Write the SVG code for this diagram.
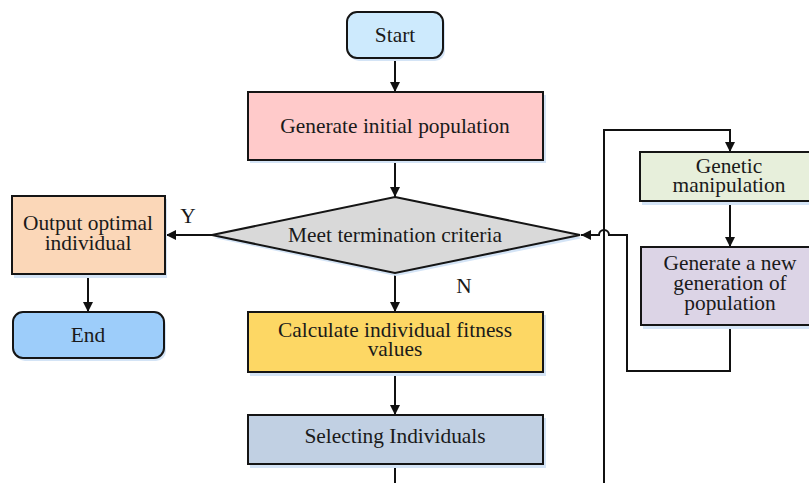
<svg xmlns="http://www.w3.org/2000/svg" width="809" height="483" viewBox="0 0 809 483">
  <defs>
    <marker id="arrow" viewBox="0 0 10 10" refX="10" refY="5" markerWidth="10" markerHeight="10" markerUnits="userSpaceOnUse" orient="auto">
      <path d="M0,0 L10,5 L0,10 z" fill="#111"/>
    </marker>
    <style>
      .box { stroke: #151515; stroke-width: 2; }
      .shadow { fill: #d4e4f6; }
      .label { font-family: "Liberation Serif", "Times New Roman", serif; font-size: 21.4px; fill: #1a1a1a; text-anchor: middle; }
      .link { fill: none; stroke: #111; stroke-width: 2; }
    </style>
  </defs>
  <rect width="809" height="483" fill="#ffffff"/>

  <g id="connectors">
    <line class="link" x1="395" y1="58" x2="395" y2="92" marker-end="url(#arrow)"/>
    <line class="link" x1="395" y1="160" x2="395" y2="197" marker-end="url(#arrow)"/>
    <line class="link" x1="395" y1="273" x2="395" y2="312" marker-end="url(#arrow)"/>
    <line class="link" x1="395" y1="372" x2="395" y2="415" marker-end="url(#arrow)"/>
    <line class="link" x1="395" y1="464" x2="395" y2="483"/>
    <line class="link" x1="212" y1="235" x2="166" y2="235" marker-end="url(#arrow)"/>
    <line class="link" x1="88" y1="274" x2="88" y2="312" marker-end="url(#arrow)"/>
    <!-- feedback loop to genetic operators -->
    <path class="link" d="M604,483 L604,130 L730,130 L730,152" marker-end="url(#arrow)"/>
    <line class="link" x1="730" y1="201" x2="730" y2="247" marker-end="url(#arrow)"/>
    <!-- return to the decision, hopping over the vertical line -->
    <path class="link" d="M730,325 L730,371 L627,371 L627,235 L609,235 A5,5 0 0 0 599,235 L581,235" marker-end="url(#arrow)"/>
    <text class="label" x="188" y="223">Y</text>
    <text class="label" x="464" y="293">N</text>
  </g>

  <g id="start">
    <rect class="shadow" x="349" y="14" width="96" height="47" rx="10"/>
    <rect class="box" x="347" y="12" width="96" height="46" rx="10" fill="#cdeafd"/>
    <text class="label" x="395" y="42">Start</text>
  </g>

  <g id="init-population">
    <rect class="shadow" x="250" y="95" width="296" height="68"/>
    <rect class="box" x="248" y="92" width="295" height="68" fill="#ffcaca"/>
    <text class="label" x="395" y="133">Generate initial population</text>
  </g>

  <g id="termination">
    <polygon class="shadow" points="396,200 583,238 396,276 214,238"/>
    <polygon class="box" points="395,197 580,235 395,273 212,235" fill="#d9d9d9"/>
    <text class="label" x="395" y="242">Meet termination criteria</text>
  </g>

  <g id="fitness">
    <rect class="shadow" x="250" y="315" width="296" height="61"/>
    <rect class="box" x="248" y="312" width="295" height="60" fill="#fdd764"/>
    <text class="label" x="395" y="337">Calculate individual fitness</text>
    <text class="label" x="395" y="356">values</text>
  </g>

  <g id="selection">
    <rect class="shadow" x="250" y="418" width="296" height="50"/>
    <rect class="box" x="248" y="415" width="295" height="49" fill="#c1d0e3"/>
    <text class="label" x="395" y="443">Selecting Individuals</text>
  </g>

  <g id="output">
    <rect class="shadow" x="14" y="199" width="153" height="79"/>
    <rect class="box" x="12" y="196" width="153" height="78" fill="#fbd7b8"/>
    <text class="label" x="88" y="230">Output optimal</text>
    <text class="label" x="88" y="250">individual</text>
  </g>

  <g id="end">
    <rect class="shadow" x="15" y="315" width="151" height="46" rx="10"/>
    <rect class="box" x="13" y="312" width="151" height="46" rx="10" fill="#9dcdfa"/>
    <text class="label" x="88" y="342">End</text>
  </g>

  <g id="genetic">
    <rect class="shadow" x="642" y="155" width="180" height="50"/>
    <rect class="box" x="640" y="152" width="180" height="49" fill="#e7efdb"/>
    <text class="label" x="729" y="173">Genetic</text>
    <text class="label" x="729" y="192">manipulation</text>
  </g>

  <g id="new-generation">
    <rect class="shadow" x="643" y="250" width="180" height="79"/>
    <rect class="box" x="641" y="247" width="180" height="78" fill="#dcd4e6"/>
    <text class="label" x="730" y="270">Generate a new</text>
    <text class="label" x="730" y="290">generation of</text>
    <text class="label" x="730" y="310">population</text>
  </g>
</svg>
